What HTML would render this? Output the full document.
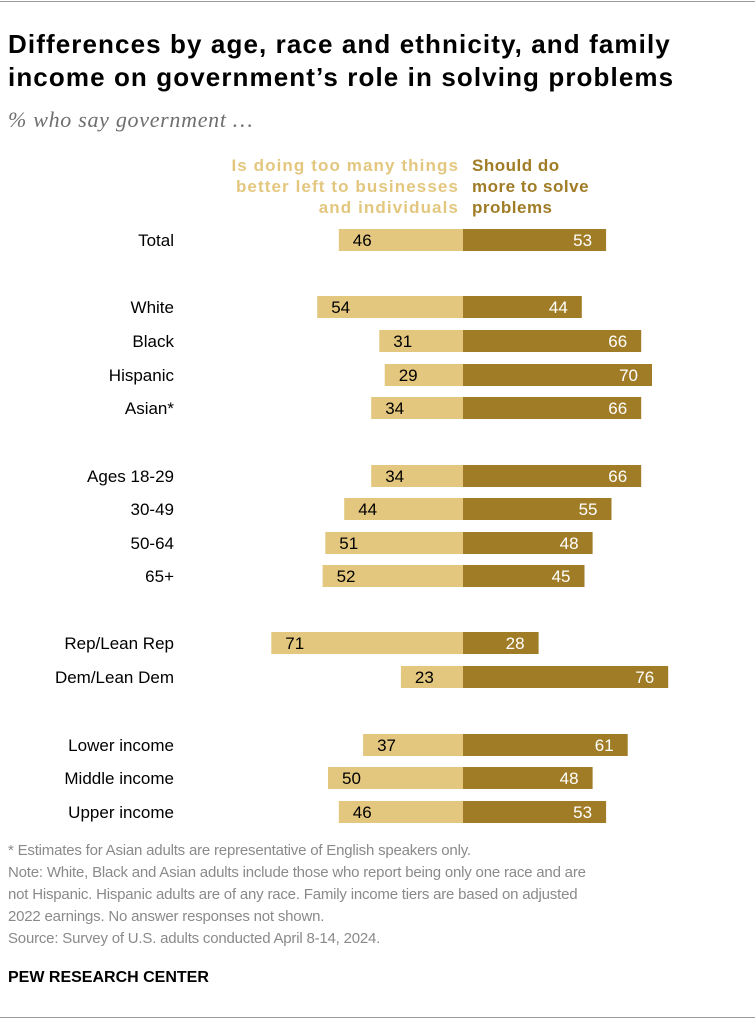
<!DOCTYPE html>
<html><head><meta charset="utf-8"><style>
body{margin:0;width:755px;height:1024px;background:#fff;font-family:"Liberation Sans",sans-serif;position:relative;overflow:hidden}
.t{position:absolute;left:8px;top:28px;font-size:26px;font-weight:bold;line-height:33px;color:#000;letter-spacing:1.1px}
.sub{position:absolute;left:8px;top:107px;font-size:22px;font-style:italic;color:#6f6f6f;font-family:"Liberation Serif",serif;letter-spacing:0.7px}
.leg{position:absolute;top:155px;font-size:17px;font-weight:bold;line-height:21px;letter-spacing:0.5px}
.note{position:absolute;left:8px;top:840px;font-size:15px;line-height:22px;color:#8a8a8a;letter-spacing:-0.2px}
.pew{position:absolute;left:8px;top:969px;font-size:16px;font-weight:bold;color:#000}
.rule{position:absolute;left:0;width:755px;height:1px;background:#999}
</style></head><body>
<div class="rule" style="top:1px"></div>
<div class="t">Differences by age, race and ethnicity, and family<br>income on government’s role in solving problems</div>
<div class="sub">% who say government …</div>
<div class="leg" style="right:296px;text-align:right;color:#e3c77f;letter-spacing:1.1px">Is doing too many things<br>better left to businesses<br>and individuals</div>
<div class="leg" style="left:472px;color:#a07c26">Should do<br>more to solve<br>problems</div>
<svg id="chart" width="755" height="1024" style="position:absolute;left:0;top:0"></svg>
<div class="note">* Estimates for Asian adults are representative of English speakers only.<br>Note: White, Black and Asian adults include those who report being only one race and are<br>not Hispanic. Hispanic adults are of any race. Family income tiers are based on adjusted<br>2022 earnings. No answer responses not shown.<br>Source: Survey of U.S. adults conducted April 8-14, 2024.</div>
<div class="pew">PEW RESEARCH CENTER</div>
<div class="rule" style="top:1017px"></div>
<script>
const categories=["Total","White","Black","Hispanic","Asian*","Ages 18-29","30-49","50-64","65+","Rep/Lean Rep","Dem/Lean Dem","Lower income","Middle income","Upper income"];
const tooMany=[46,54,31,29,34,34,44,51,52,71,23,37,50,46];
const doMore=[53,44,66,70,66,66,55,48,45,28,76,61,48,53];
const rowY=[240,307,341,375,408,476,509,543,576,643,677,745,778,812];
const cx=463,k=2.7,h=22;
const x=v=>v*k;
const svg=document.getElementById('chart');
const NS='http://www.w3.org/2000/svg';
function mk(tag,a,txt){const e=document.createElementNS(NS,tag);for(const n in a)e.setAttribute(n,a[n]);if(txt!==undefined)e.textContent=txt;svg.appendChild(e);return e;}
categories.forEach((c,i)=>{
  const y=rowY[i];
  const lab=mk('text',{x:174,y:y+6,'text-anchor':'end','font-size':17,fill:'#000','font-family':'Liberation Sans, sans-serif'},c);
  
  
  const l=mk('rect',{x:cx-x(tooMany[i]),y:y-h/2,width:x(tooMany[i]),height:h,fill:'#e3c77f'});
  
  
  const r=mk('rect',{x:cx,y:y-h/2,width:x(doMore[i]),height:h,fill:'#a07c26'});
  
  
  const lv=mk('text',{x:cx-x(tooMany[i])+14,y:y+6,'font-size':17,fill:'#000','font-family':'Liberation Sans, sans-serif'},tooMany[i]);
  
  
  const rv=mk('text',{x:cx+x(doMore[i])-14,y:y+6,'text-anchor':'end','font-size':17,fill:'#fff','font-family':'Liberation Sans, sans-serif'},doMore[i]);
  
  
});
</script>
</body></html>
